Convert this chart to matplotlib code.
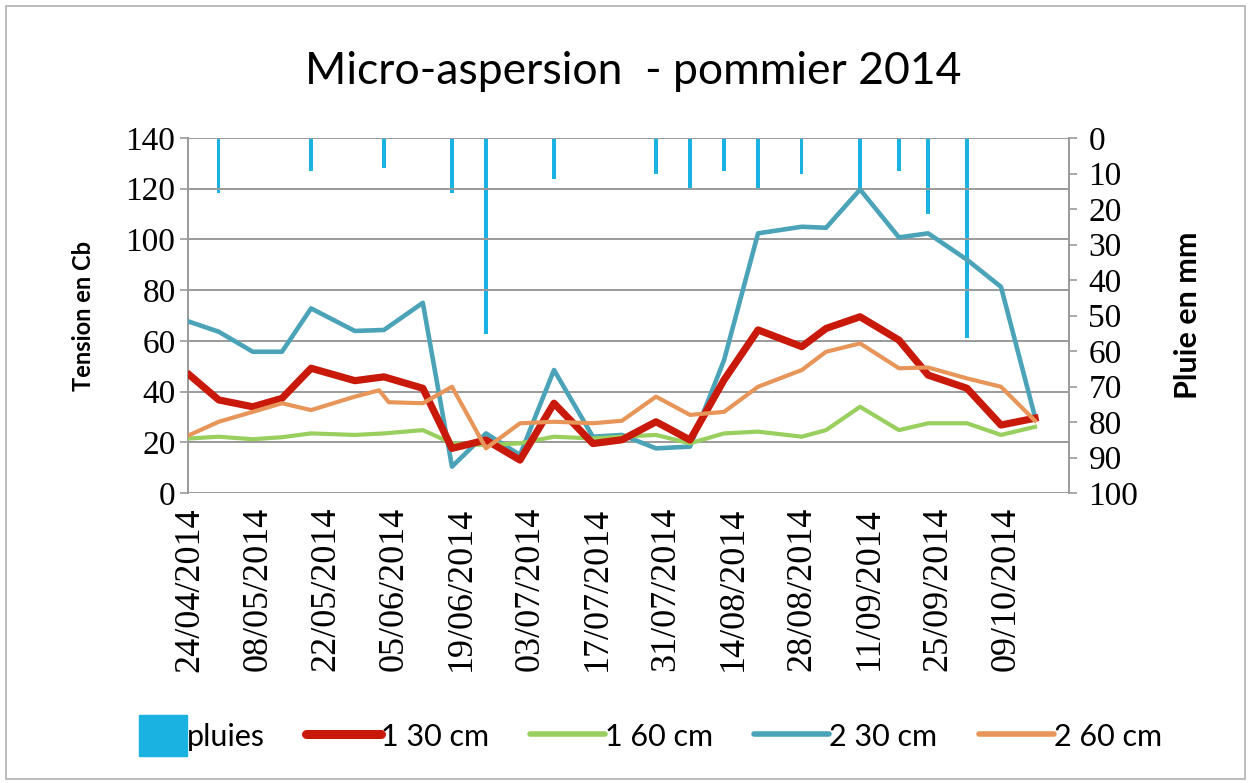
import matplotlib
matplotlib.use('Agg')
import matplotlib.pyplot as plt
import matplotlib.dates as mdates
import pandas as pd
from matplotlib.lines import Line2D
from matplotlib.patches import Patch, Rectangle
from matplotlib.legend_handler import HandlerPatch

# ---------------- data ----------------
dates = ['2014-04-24', '2014-04-30', '2014-05-07', '2014-05-13', '2014-05-19',
         '2014-05-28', '2014-06-03', '2014-06-11', '2014-06-17', '2014-06-24',
         '2014-07-01', '2014-07-08', '2014-07-16', '2014-07-22', '2014-07-29',
         '2014-08-05', '2014-08-12', '2014-08-19', '2014-08-28', '2014-09-02',
         '2014-09-09', '2014-09-17', '2014-09-23', '2014-10-01', '2014-10-08',
         '2014-10-15']
s_1_30 = [46.5, 36.7, 34, 37.3, 49.2, 44.3, 45.8, 41.3, 17.6, 20.9,
          13, 35.4, 19.5, 21, 28.1, 20.9, 44.6, 64.3, 57.7, 64.9,
          69.5, 60.3, 46.5, 41.3, 26.8, 29.5]
s_1_60 = [21.5, 22.2, 21.2, 22, 23.5, 22.9, 23.5, 24.8, 19.6, 18.9,
          19.6, 22.2, 21.5, 22.2, 22.9, 19.6, 23.5, 24.2, 22.2, 24.8,
          34, 24.8, 27.5, 27.5, 22.9, 26.1]
s_2_30 = [67.5, 63.6, 55.7, 55.7, 72.8, 63.9, 64.3, 75, 10.4, 23.5,
          15, 48.5, 22.2, 22.9, 17.6, 18.3, 52.4, 102.4, 105, 104.6,
          119.7, 100.8, 102.4, 92, 81.3, 30]
dates_2_60 = ['2014-04-24', '2014-04-30', '2014-05-07', '2014-05-13', '2014-05-19',
              '2014-05-28', '2014-06-02', '2014-06-04', '2014-06-11', '2014-06-17',
              '2014-06-24', '2014-07-01', '2014-07-08', '2014-07-16', '2014-07-22',
              '2014-07-29', '2014-08-05', '2014-08-12', '2014-08-19', '2014-08-28',
              '2014-09-02', '2014-09-09', '2014-09-17', '2014-09-23', '2014-10-01',
              '2014-10-08', '2014-10-15']
s_2_60 = [22.9, 28.1, 32, 35.4, 32.7, 38, 40.5, 35.8, 35.4, 41.9,
          17.6, 27.5, 28.1, 27.5, 28.5, 38, 30.8, 32, 41.9, 48.5,
          55.7, 59, 49.2, 49.5, 45.2, 41.9, 28.5]
rain_dates = ['2014-04-30', '2014-05-19', '2014-06-03', '2014-06-17', '2014-06-24',
              '2014-07-08', '2014-07-29', '2014-08-05', '2014-08-12', '2014-08-19',
              '2014-08-28', '2014-09-09', '2014-09-17', '2014-09-23', '2014-10-01']
rain_mm = [15.4, 9.2, 8.5, 15.4, 55.2, 11.5, 10.2, 14.2, 9.2, 14.2,
           10.2, 14, 9.2, 21.4, 56.4]
tick_dates = pd.date_range('2014-04-24', periods=13, freq='14D')

title = 'Micro-aspersion  - pommier 2014'
ylabel_left = 'Tension en Cb'
ylabel_right = 'Pluie en mm'
legend_labels = ['pluies', '1 30 cm', '1 60 cm', '2 30 cm', '2 60 cm']

# ---------------- style ----------------
c_rain = '#1ab2e0'
c_130 = '#c8190b'
c_160 = '#98cf5e'
c_230 = '#4ba3b8'
c_260 = '#e8955a'
grid_c = '#9a9a9a'
sans = ['Lato', 'DejaVu Sans']
serif = ['Liberation Serif', 'DejaVu Serif']

W, H = 1251, 783
fig = plt.figure(figsize=(W / 100, H / 100), dpi=100)
fig.patches.append(Rectangle((6 / W, 4 / H), 1 - 12 / W, 1 - 10 / H, transform=fig.transFigure,
                             fill=False, edgecolor='#b0b0b0', linewidth=1.2))

ax = fig.add_axes([188 / W, 1 - 493 / H, (1069 - 188) / W, (493 - 138) / H])
ax2 = ax.twinx()
ax.set_zorder(2)
ax.patch.set_visible(False)

d = pd.to_datetime(dates)
d260 = pd.to_datetime(dates_2_60)
dr = pd.to_datetime(rain_dates)

# rain bars (inverted right axis)
ax2.bar(dr, rain_mm, width=0.7, color=c_rain, align='center', zorder=1)
ax2.set_ylim(100, 0)
ax2.set_yticks(range(0, 101, 10))

# lines
ax.plot(d, s_2_30, color=c_230, lw=3.3, zorder=3)
ax.plot(d, s_1_60, color=c_160, lw=3.0, zorder=4)
ax.plot(d260, s_2_60, color=c_260, lw=3.0, zorder=5)
ax.plot(d, s_1_30, color=c_130, lw=5.2, zorder=4.5)

ax.set_ylim(0, 140)
ax.set_yticks(range(0, 141, 20))
x0 = pd.Timestamp('2014-04-24')
ax.set_xlim(x0 - pd.Timedelta(hours=8), x0 + pd.Timedelta(days=181))
ax.set_xticks(tick_dates)
ax.xaxis.set_major_formatter(mdates.DateFormatter('%d/%m/%Y'))
for lab in ax.get_xticklabels():
    lab.set_rotation(90)
    lab.set_fontfamily(serif)
    lab.set_fontsize(26)
ax.tick_params(axis='x', length=0, pad=10)
ax.tick_params(axis='y', length=6, color=grid_c, width=1.2, labelsize=24, pad=3)
for lab in ax.get_yticklabels():
    lab.set_fontfamily(serif)
ax2.tick_params(axis='y', length=6, color=grid_c, width=1.2, labelsize=24, pad=8)
for lab in ax2.get_yticklabels():
    lab.set_fontfamily(serif)

ax.grid(axis='y', color=grid_c, lw=1.4)
ax.set_axisbelow(True)
for a in (ax, ax2):
    for s in ('top', 'bottom'):
        a.spines[s].set_visible(False)
    a.spines['left'].set_color(grid_c)
    a.spines['right'].set_color(grid_c)
    a.spines['left'].set_linewidth(1.4)
    a.spines['right'].set_linewidth(1.4)
ax.spines['right'].set_visible(False)
ax2.spines['left'].set_visible(False)

ax.set_ylabel(ylabel_left, fontsize=17, fontweight='bold', family=sans, labelpad=22)
ax2.set_ylabel(ylabel_right, fontsize=22, fontweight='bold', family=sans, labelpad=26)

fig.text(0.506, 1 - 72 / H, title, ha='center', va='center', fontsize=32, family=sans)


def rain_patch(legend, orig_handle, xdescent, ydescent, width, height, fontsize):
    w = width * 0.64
    h = height * 1.5
    return Rectangle((width - w - xdescent, -ydescent - (h - height) / 2), w, h)


handles = [Patch(color=c_rain),
           Line2D([], [], color=c_130, lw=6.5, solid_capstyle='round'),
           Line2D([], [], color=c_160, lw=4, solid_capstyle='round'),
           Line2D([], [], color=c_230, lw=4, solid_capstyle='round'),
           Line2D([], [], color=c_260, lw=4, solid_capstyle='round')]
fig.legend(handles, legend_labels, loc='center', bbox_to_anchor=(0.509, 1 - 736 / H), ncol=5,
           frameon=False, prop={'family': sans, 'size': 22}, handlelength=2.45,
           handleheight=1.0, handletextpad=0.0, columnspacing=1.35,
           handler_map={Patch: HandlerPatch(patch_func=rain_patch)})

fig.savefig('out.png', dpi=100)
